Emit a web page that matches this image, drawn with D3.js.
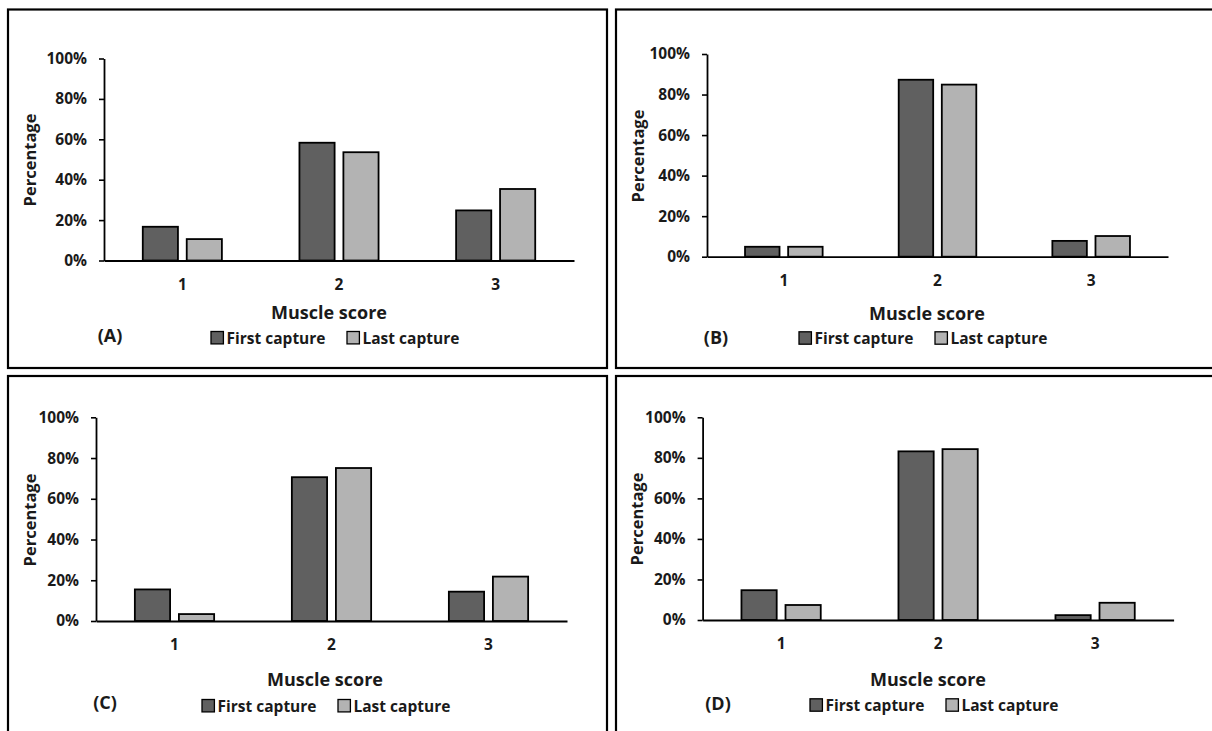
<!DOCTYPE html>
<html>
<head>
<meta charset="utf-8">
<script src="https://cdn.jsdelivr.net/npm/d3@7"></script>
<style>
  body { margin: 0; background: #fff; }
  svg text { font-family: "Open Sans", Lato, sans-serif; font-weight: bold; fill: #1a1a1a; }
</style>
</head>
<body>
<svg id="fig" width="1212" height="731"></svg>
<script>
// muscle score categories and the two capture series
const categories = ["1", "2", "3"];
const seriesNames = ["First capture", "Last capture"];
const panelTags = ["(A)", "(B)", "(C)", "(D)"];
const yTicks = [0, 20, 40, 60, 80, 100];

// percentages
const firstA = [16.7, 58.3, 24.8];
const lastA  = [10.6, 53.6, 35.4];
const firstB = [4.9, 87.3, 7.8];
const lastB  = [4.9, 84.9, 10.2];
const firstC = [15.5, 70.6, 14.4];
const lastC  = [3.4, 75.1, 21.8];
const firstD = [14.7, 83.2, 2.4];
const lastD  = [7.4, 84.3, 8.5];

const panelData = [[firstA, lastA], [firstB, lastB], [firstC, lastC], [firstD, lastD]];

const colors = ["#606060", "#b3b3b3"];

// where each panel sits on the page
const layout = [
  {frame: [8, 9.5, 599, 358.5], plot: {l: 104, r: 574, t: 58.5, b: 260.5},
   xTitle: [329, 311.7], yTitle: [29, 160], tag: [110, 335], legend: [211, 337.7]},
  {frame: [616, 9.5, 610, 358.5], plot: {l: 707, r: 1168, t: 54, b: 256.7},
   xTitle: [927, 313], yTitle: [637, 156], tag: [716, 337], legend: [799, 338]},
  {frame: [8, 376, 599, 370], plot: {l: 96, r: 567, t: 417.3, b: 621},
   xTitle: [325, 679.3], yTitle: [29, 520], tag: [105, 702.3], legend: [202, 705.7]},
  {frame: [616, 376, 610, 370], plot: {l: 702.6, r: 1173.6, t: 417.3, b: 620},
   xTitle: [928, 679.3], yTitle: [636, 519], tag: [718, 703.3], legend: [810, 705]}
];

const svg = d3.select("#fig");

layout.forEach(function(p, i) {
  const g = svg.append("g");
  const series = panelData[i];

  g.append("rect")   // panel frame
    .attr("x", p.frame[0]).attr("y", p.frame[1])
    .attr("width", p.frame[2]).attr("height", p.frame[3])
    .attr("fill", "none").attr("stroke", "#000").attr("stroke-width", 2.2);

  const x0 = d3.scaleBand().domain(categories).range([p.plot.l, p.plot.r]);
  const groupW = x0.bandwidth() * 0.505;
  const x1 = d3.scaleBand().domain(d3.range(seriesNames.length))
    .range([0, groupW]).paddingInner(0.2);
  const y = d3.scaleLinear().domain([0, 100]).range([p.plot.b, p.plot.t]);

  // bars
  series.forEach(function(vals, s) {
    g.selectAll(null)
      .data(vals)
      .enter().append("rect")
      .attr("x", (d, k) => x0(categories[k]) + (x0.bandwidth() - groupW) / 2 + x1(s))
      .attr("y", d => y(d))
      .attr("width", x1.bandwidth())
      .attr("height", d => y(0) - y(d))
      .attr("fill", colors[s])
      .attr("stroke", "#000")
      .attr("stroke-width", 1.8);
  });

  // y axis
  const ya = g.append("g")
    .attr("transform", "translate(" + p.plot.l + ",0)")
    .call(d3.axisLeft(y).tickValues(yTicks).tickSize(5).tickSizeOuter(0)
      .tickPadding(12).tickFormat(d => d + "%"));
  ya.select(".domain").attr("stroke", "#000").attr("stroke-width", 1.8);
  ya.selectAll(".tick line").attr("stroke", "#000").attr("stroke-width", 1.6);
  ya.selectAll("text").style("font-size", "15.5px").attr("fill", "#1a1a1a");

  // x axis, no ticks
  const xa = g.append("g")
    .attr("transform", "translate(0," + p.plot.b + ")")
    .call(d3.axisBottom(x0).tickSize(0).tickSizeOuter(0).tickPadding(18));
  xa.select(".domain").attr("stroke", "#000").attr("stroke-width", 1.8);
  xa.selectAll("text").style("font-size", "15.5px").attr("fill", "#1a1a1a");

  g.append("text")
    .attr("x", p.xTitle[0]).attr("y", p.xTitle[1])
    .attr("text-anchor", "middle").attr("dominant-baseline", "central")
    .style("font-size", "18px")
    .text("Muscle score");

  g.append("text")
    .attr("transform", "translate(" + p.yTitle[0] + "," + p.yTitle[1] + ") rotate(-90)")
    .attr("text-anchor", "middle").attr("dominant-baseline", "central")
    .style("font-size", "16.5px")
    .text("Percentage");

  g.append("text")
    .attr("x", p.tag[0]).attr("y", p.tag[1])
    .attr("text-anchor", "middle").attr("dominant-baseline", "central")
    .style("font-size", "18px")
    .text(panelTags[i]);

  // legend
  const leg = g.append("g").selectAll("g")
    .data(seriesNames)
    .enter().append("g")
    .attr("transform", (d, s) => "translate(" + (p.legend[0] + s * 136) + "," + p.legend[1] + ")");
  leg.append("rect")
    .attr("x", 0).attr("y", -6.2).attr("width", 12.4).attr("height", 12.4)
    .attr("fill", (d, s) => colors[s]).attr("stroke", "#000").attr("stroke-width", 1.3);
  leg.append("text")
    .attr("x", 15.5).attr("y", 0)
    .attr("dominant-baseline", "central")
    .style("font-size", "15.5px")
    .text(d => d);
});
</script>
</body>
</html>
